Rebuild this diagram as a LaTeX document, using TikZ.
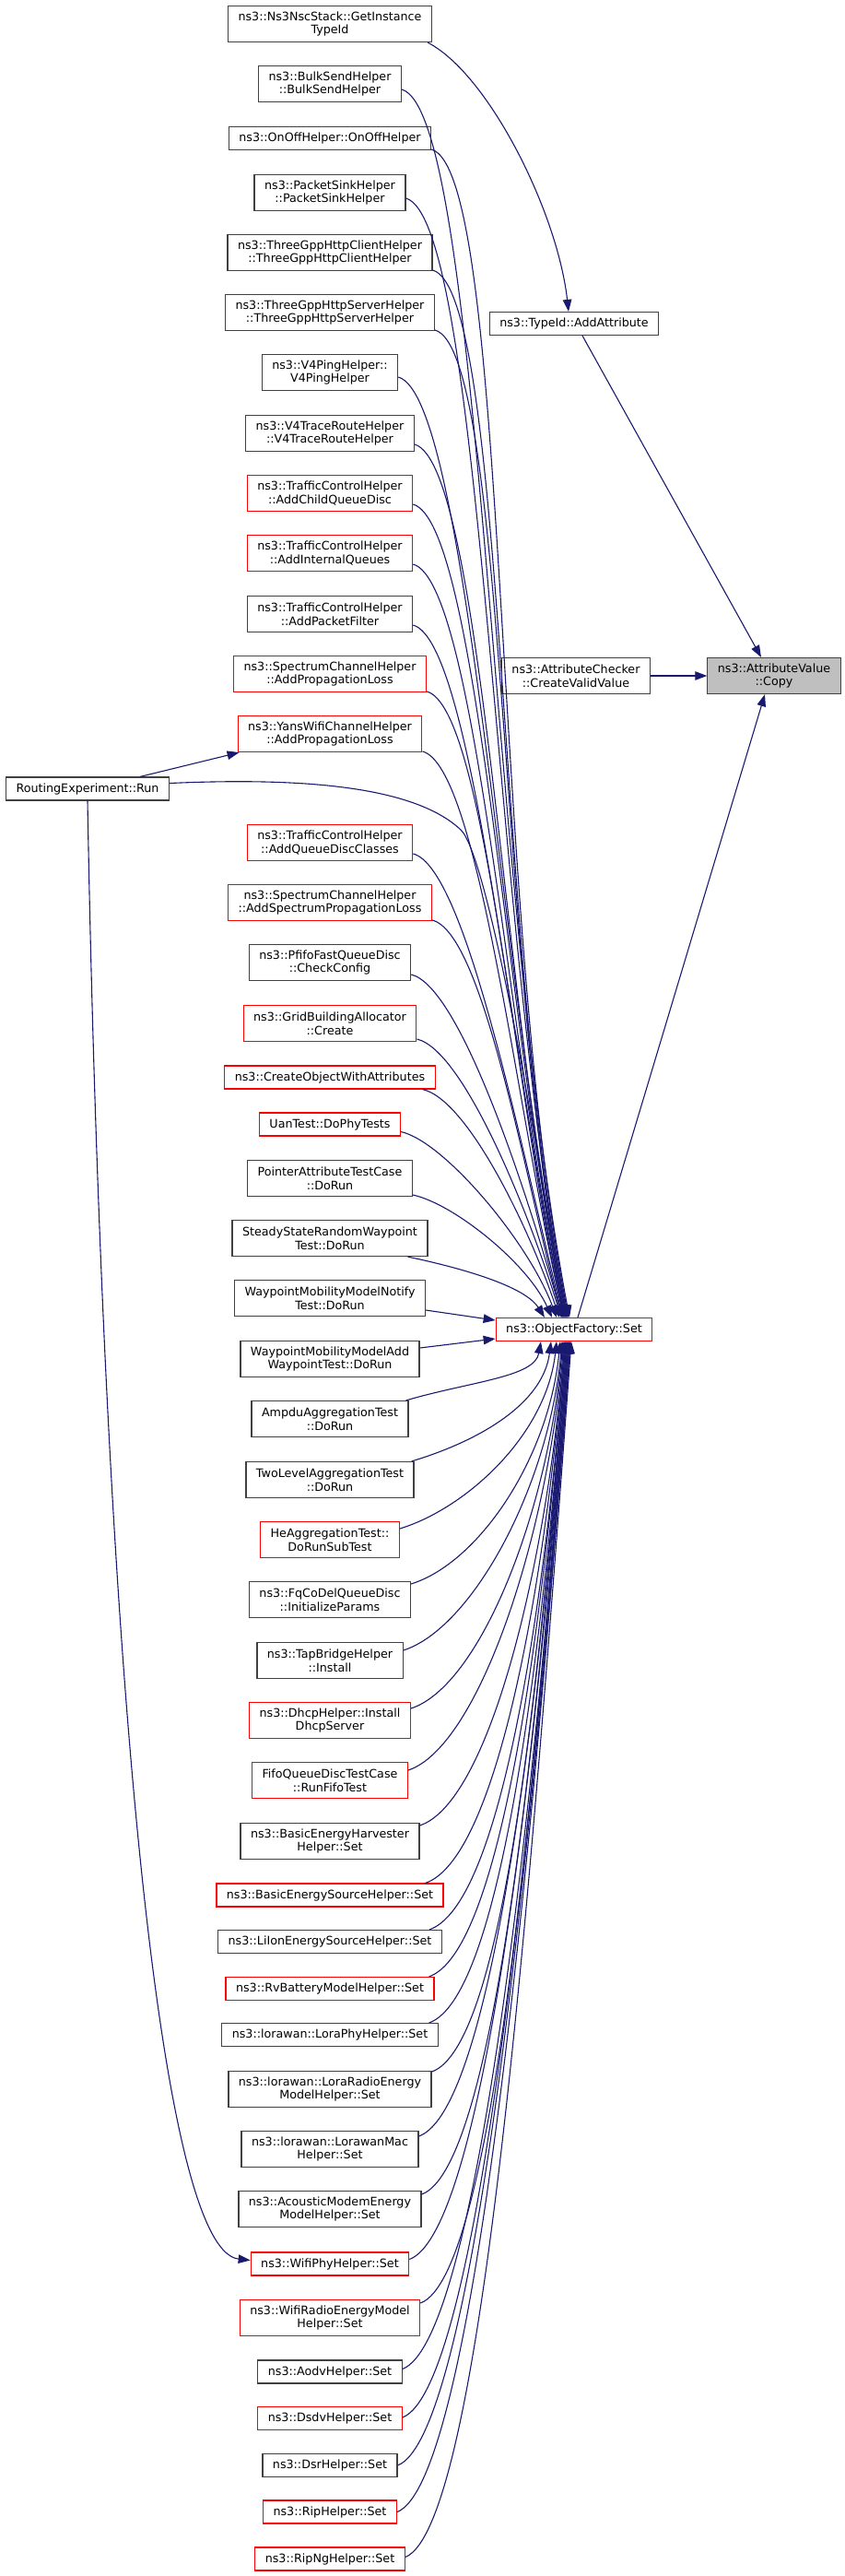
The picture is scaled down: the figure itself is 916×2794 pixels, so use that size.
\documentclass[tikz,border=0pt]{standalone}
\usepackage{fontspec}
\setmainfont{DejaVu Sans}
\usepackage{xcolor}
\usepackage{tikz}
\usetikzlibrary{arrows.meta, calc}
\definecolor{edgeblue}{RGB}{25,25,112}
\definecolor{boxgray}{RGB}{64,64,64}
\definecolor{boxred}{RGB}{255,0,0}
\definecolor{copyfill}{RGB}{191,191,191}

\begin{document}
\begin{tikzpicture}[
        x=1pt, y=1pt,
        fn/.style={rectangle, draw=boxgray, fill=white, line width=1.2pt,
                   inner xsep=11pt, inner ysep=0pt, minimum height=25pt,
                   align=center, font=\fontsize{12.7}{14.7}\selectfont},
        fnred/.style={fn, draw=boxred},
        tall/.style={minimum height=39pt},
        focus/.style={fn, fill=copyfill},
        edge/.style={-{Triangle[length=13pt, width=9.5pt]}, edgeblue, line width=1.1pt},
        feedtop/.style={to path={let \p1=(\tikztostart), \p2=(\tikztotarget), \n1={\y1-\y2} in
            .. controls ($(\p1)+(40+0.035*\n1, -8-0.013*\n1)$)
            and ($(\p2)+(-20-0.05*\n1, 15+0.33*\n1)$) .. (\p2)}},
        feedbot/.style={to path={let \p1=(\tikztostart), \p2=(\tikztotarget), \n1={\y2-\y1} in
            .. controls ($(\p1)+(70+0.01*\n1, 20+0.01*\n1)$)
            and ($(\p2)+(-5-0.03*\n1, -10-0.45*\n1)$) .. (\p2)}}
      ]
        \useasboundingbox (0,0) rectangle (916,-2794);
        % Callers -- manually placed
        \node[fn, tall] (getinst) at (358,-26) {ns3::Ns3NscStack::GetInstance\\TypeId};
        \node[fn, tall] (bulksend) at (358,-91) {ns3::BulkSendHelper\\::BulkSendHelper};
        \node[fn] (onoff) at (358,-150) {ns3::OnOffHelper::OnOffHelper};
        \node[fn, tall] (pktsink) at (358,-209) {ns3::PacketSinkHelper\\::PacketSinkHelper};
        \node[fn, tall] (httpclient) at (358,-274) {ns3::ThreeGppHttpClientHelper\\::ThreeGppHttpClientHelper};
        \node[fn, tall] (httpserver) at (358,-339) {ns3::ThreeGppHttpServerHelper\\::ThreeGppHttpServerHelper};
        \node[fn, tall] (v4ping) at (358,-404) {ns3::V4PingHelper::\\V4PingHelper};
        \node[fn, tall] (v4trace) at (358,-470) {ns3::V4TraceRouteHelper\\::V4TraceRouteHelper};
        \node[fnred, tall] (tcchild) at (358,-535) {ns3::TrafficControlHelper\\::AddChildQueueDisc};
        \node[fnred, tall] (tcinternal) at (358,-600) {ns3::TrafficControlHelper\\::AddInternalQueues};
        \node[fn, tall] (tcfilter) at (358,-666) {ns3::TrafficControlHelper\\::AddPacketFilter};
        \node[fnred, tall] (spprop) at (358,-731) {ns3::SpectrumChannelHelper\\::AddPropagationLoss};
        \node[fnred, tall] (yansprop) at (358,-796) {ns3::YansWifiChannelHelper\\::AddPropagationLoss};
        \node[fn] (run) at (95,-855.5) {RoutingExperiment::Run};
        \node[fnred, tall] (tcclasses) at (358,-914) {ns3::TrafficControlHelper\\::AddQueueDiscClasses};
        \node[fnred, tall] (spspec) at (358,-979) {ns3::SpectrumChannelHelper\\::AddSpectrumPropagationLoss};
        \node[fn, tall] (pfifo) at (358,-1044) {ns3::PfifoFastQueueDisc\\::CheckConfig};
        \node[fnred, tall] (gridalloc) at (358,-1110) {ns3::GridBuildingAllocator\\::Create};
        \node[fnred] (createobj) at (358,-1168.5) {ns3::CreateObjectWithAttributes};
        \node[fnred] (uantest) at (358,-1219.5) {UanTest::DoPhyTests};
        \node[fn, tall] (pointer) at (358,-1278) {PointerAttributeTestCase\\::DoRun};
        \node[fn, tall] (steady) at (358,-1343) {SteadyStateRandomWaypoint\\Test::DoRun};
        \node[fn, tall] (wpnotify) at (358,-1408) {WaypointMobilityModelNotify\\Test::DoRun};
        \node[fn, tall] (wpadd) at (358,-1474) {WaypointMobilityModelAdd\\WaypointTest::DoRun};
        \node[fn, tall] (ampdu) at (358,-1539) {AmpduAggregationTest\\::DoRun};
        \node[fn, tall] (twolevel) at (358,-1605) {TwoLevelAggregationTest\\::DoRun};
        \node[fnred, tall] (heagg) at (358,-1670) {HeAggregationTest::\\DoRunSubTest};
        \node[fn, tall] (fqcodel) at (358,-1735) {ns3::FqCoDelQueueDisc\\::InitializeParams};
        \node[fn, tall] (tapbridge) at (358,-1801) {ns3::TapBridgeHelper\\::Install};
        \node[fnred, tall] (dhcp) at (358,-1866) {ns3::DhcpHelper::Install\\DhcpServer};
        \node[fnred, tall] (fifo) at (358,-1931) {FifoQueueDiscTestCase\\::RunFifoTest};
        \node[fn, tall] (harvester) at (358,-1997) {ns3::BasicEnergyHarvester\\Helper::Set};
        \node[fnred] (basicsrc) at (358,-2055.5) {ns3::BasicEnergySourceHelper::Set};
        \node[fn] (liion) at (358,-2106) {ns3::LiIonEnergySourceHelper::Set};
        \node[fnred] (rvbatt) at (358,-2157) {ns3::RvBatteryModelHelper::Set};
        \node[fn] (loraphy) at (358,-2207) {ns3::lorawan::LoraPhyHelper::Set};
        \node[fn, tall] (loraradio) at (358,-2266) {ns3::lorawan::LoraRadioEnergy\\ModelHelper::Set};
        \node[fn, tall] (loramac) at (358,-2331) {ns3::lorawan::LorawanMac\\Helper::Set};
        \node[fn, tall] (acoustic) at (358,-2396) {ns3::AcousticModemEnergy\\ModelHelper::Set};
        \node[fnred] (wifiphy) at (358,-2455.5) {ns3::WifiPhyHelper::Set};
        \node[fnred, tall] (wifiradio) at (358,-2514) {ns3::WifiRadioEnergyModel\\Helper::Set};
        \node[fn] (aodv) at (358,-2572.5) {ns3::AodvHelper::Set};
        \node[fnred] (dsdv) at (358,-2623) {ns3::DsdvHelper::Set};
        \node[fn] (dsr) at (358,-2674) {ns3::DsrHelper::Set};
        \node[fnred] (rip) at (358,-2724.5) {ns3::RipHelper::Set};
        \node[fnred] (ripng) at (358,-2775.5) {ns3::RipNgHelper::Set};
        % Callees
        \node[fn] (addattr) at (623,-351) {ns3::TypeId::AddAttribute};
        \node[fn, tall] (createvalid) at (625,-733) {ns3::AttributeChecker\\::CreateValidValue};
        \node[fnred] (objfact) at (623,-1442) {ns3::ObjectFactory::Set};
        \node[focus, tall] (attrcopy) at (840,-733) {ns3::AttributeValue\\::Copy};
        % Edges into AttributeValue::Copy
        \draw[edge] ([xshift=-5pt]getinst.south east) .. controls (530,-80) and (605,-230) .. ([xshift=-6pt]addattr.north);
        \draw[edge] ([xshift=9pt]addattr.south) -- ([xshift=-14pt]attrcopy.north);
        \draw[edge] (createvalid.east) -- (attrcopy.west);
        \draw[edge] ([xshift=4pt]objfact.north) -- ([xshift=-10pt]attrcopy.south);
        % Edges from RoutingExperiment::Run
        \draw[edge] ([xshift=-32pt]run.north east) -- ([xshift=2pt]yansprop.south west);
        \draw[edge] ([yshift=6pt]run.east) .. controls (330,-843) and (450,-853) .. (500,-900)
          .. controls (530,-928) and (585,-1250) .. ([xshift=-12pt]objfact.north);
        \draw[edge] (run.south) .. controls (110,-1700) and (165,-2440) .. ([yshift=4pt]wifiphy.west);
        % Edges into ObjectFactory::Set from above
        \draw[edge] ([yshift=-6pt]bulksend.east) to[feedtop] ([xshift=-5pt]objfact.north);
        \draw[edge] ([yshift=-12pt]onoff.east) to[feedtop] ([xshift=-6pt]objfact.north);
        \draw[edge] ([yshift=-6pt]pktsink.east) to[feedtop] ([xshift=-7pt]objfact.north);
        \draw[edge] ([yshift=-19pt]httpclient.east) to[feedtop] ([xshift=-7pt]objfact.north);
        \draw[edge] ([yshift=-19pt]httpserver.east) to[feedtop] ([xshift=-8pt]objfact.north);
        \draw[edge] ([yshift=-5pt]v4ping.east) to[feedtop] ([xshift=-8pt]objfact.north);
        \draw[edge] ([yshift=-12pt]v4trace.east) to[feedtop] ([xshift=-9pt]objfact.north);
        \draw[edge] ([yshift=-12pt]tcchild.east) to[feedtop] ([xshift=-9pt]objfact.north);
        \draw[edge] ([yshift=-12pt]tcinternal.east) to[feedtop] ([xshift=-10pt]objfact.north);
        \draw[edge] ([yshift=-12pt]tcfilter.east) to[feedtop] ([xshift=-10pt]objfact.north);
        \draw[edge] ([yshift=-19pt]spprop.east) to[feedtop] ([xshift=-11pt]objfact.north);
        \draw[edge] ([yshift=-19pt]yansprop.east) to[feedtop] ([xshift=-11pt]objfact.north);
        \draw[edge] ([yshift=-12pt]tcclasses.east) to[feedtop] ([xshift=-12pt]objfact.north);
        \draw[edge] ([yshift=-19pt]spspec.east) to[feedtop] ([xshift=-13pt]objfact.north);
        \draw[edge] ([yshift=-13pt]pfifo.east) to[feedtop] ([xshift=-13pt]objfact.north);
        \draw[edge] ([yshift=-17pt]gridalloc.east) to[feedtop] ([xshift=-14pt]objfact.north);
        \draw[edge] ([xshift=-14pt]createobj.south east) to[feedtop] ([xshift=-16pt]objfact.north);
        \draw[edge] ([yshift=-8pt]uantest.east) to[feedtop] ([xshift=-19pt]objfact.north);
        \draw[edge] ([yshift=-18pt]pointer.east) to[feedtop] ([xshift=-24pt]objfact.north);
        \draw[edge] ([xshift=-22pt]steady.south east) to[feedtop] ([xshift=-32pt]objfact.north);
        % Edges into ObjectFactory::Set from the side
        \draw[edge] ([yshift=-13pt]wpnotify.east) -- ([yshift=10pt]objfact.west);
        \draw[edge] ([yshift=12pt]wpadd.east) -- ([yshift=-10pt]objfact.west);
        % Edges into ObjectFactory::Set from below
        \draw[edge] ([xshift=-3pt]ampdu.north east) to[feedbot] ([xshift=-36pt]objfact.south);
        \draw[edge] ([xshift=-3pt]twolevel.north east) to[feedbot] ([xshift=-25pt]objfact.south);
        \draw[edge] ([yshift=12pt]heagg.east) to[feedbot] ([xshift=-19pt]objfact.south);
        \draw[edge] ([yshift=17pt]fqcodel.east) to[feedbot] ([xshift=-15pt]objfact.south);
        \draw[edge] ([yshift=11pt]tapbridge.east) to[feedbot] ([xshift=-13pt]objfact.south);
        \draw[edge] ([yshift=13pt]dhcp.east) to[feedbot] ([xshift=-12pt]objfact.south);
        \draw[edge] ([yshift=11pt]fifo.east) to[feedbot] ([xshift=-11pt]objfact.south);
        \draw[edge] ([yshift=17pt]harvester.east) to[feedbot] ([xshift=-10pt]objfact.south);
        \draw[edge] ([xshift=-20pt]basicsrc.north east) to[feedbot] ([xshift=-10pt]objfact.south);
        \draw[edge] ([xshift=-14pt]liion.north east) to[feedbot] ([xshift=-9pt]objfact.south);
        \draw[edge] ([xshift=-6pt]rvbatt.north east) to[feedbot] ([xshift=-9pt]objfact.south);
        \draw[edge] ([xshift=-10pt]loraphy.north east) to[feedbot] ([xshift=-8pt]objfact.south);
        \draw[edge] ([yshift=19pt]loraradio.east) to[feedbot] ([xshift=-8pt]objfact.south);
        \draw[edge] ([yshift=14pt]loramac.east) to[feedbot] ([xshift=-7pt]objfact.south);
        \draw[edge] ([yshift=16pt]acoustic.east) to[feedbot] ([xshift=-7pt]objfact.south);
        \draw[edge] ([yshift=5pt]wifiphy.east) to[feedbot] ([xshift=-6pt]objfact.south);
        \draw[edge] ([yshift=16pt]wifiradio.east) to[feedbot] ([xshift=-6pt]objfact.south);
        \draw[edge] ([yshift=3pt]aodv.east) to[feedbot] ([xshift=-5pt]objfact.south);
        \draw[edge] ([yshift=1pt]dsdv.east) to[feedbot] ([xshift=-5pt]objfact.south);
        \draw[edge] (dsr.east) to[feedbot] ([xshift=-4pt]objfact.south);
        \draw[edge] (rip.east) to[feedbot] ([xshift=-4pt]objfact.south);
        \draw[edge] ([yshift=2pt]ripng.east) to[feedbot] ([xshift=-3pt]objfact.south);
      \end{tikzpicture}
\end{document}
